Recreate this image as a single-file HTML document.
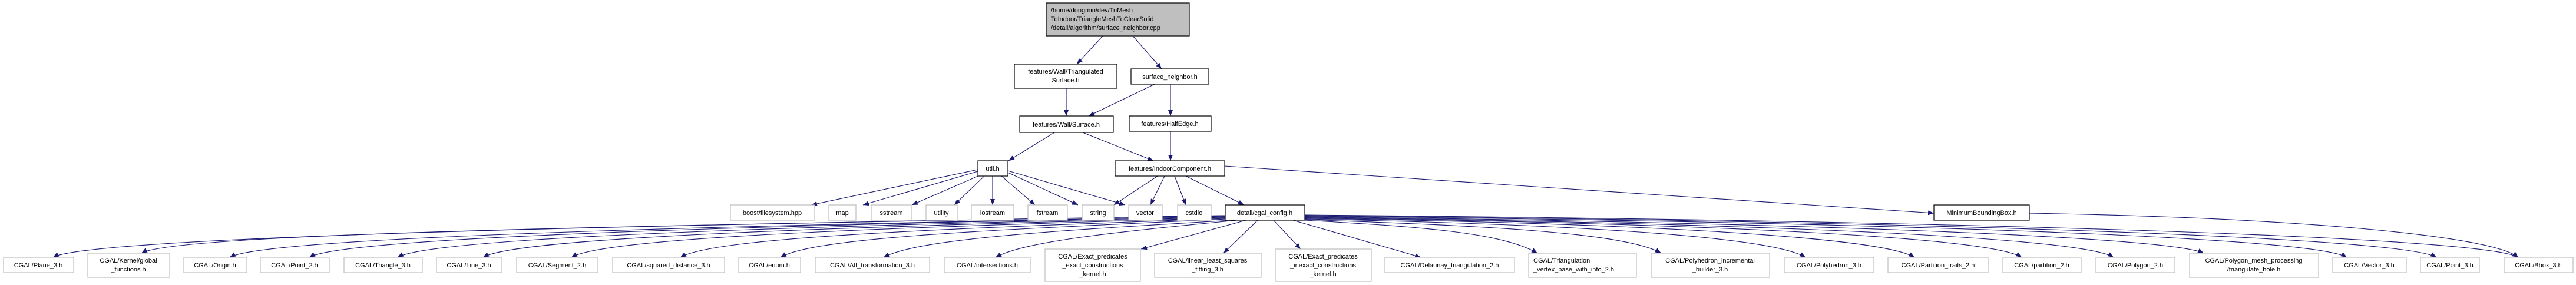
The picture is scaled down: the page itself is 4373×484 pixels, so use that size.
<!DOCTYPE html>
<html><head><meta charset="utf-8"><style>
html,body{margin:0;padding:0;background:#fff;}
svg{display:block}
text{font-family:"Liberation Sans",sans-serif;font-size:11px;fill:#000}
.e{fill:none;stroke:#191970;stroke-width:1.1}
.n{fill:#fff;stroke:#000;stroke-width:1.2}
.l{fill:#fff;stroke:#bfbfbf;stroke-width:1.2}
</style></head><body>
<svg width="4373" height="484" viewBox="0 0 4373 484" xmlns="http://www.w3.org/2000/svg">
<defs><marker id="a" markerUnits="userSpaceOnUse" markerWidth="10" markerHeight="8" refX="10" refY="4" orient="auto"><path d="M0,0 L10,4 L0,8 z" fill="#191970"/></marker></defs>
<g class="e" marker-end="url(#a)">
<path d="M1872,61 L1828,109"/>
<path d="M1923,61 L1972,117"/>
<path d="M1810,150 L1810,197"/>
<path d="M1960,143 L1848,197"/>
<path d="M1987,143 L1987,197"/>
<path d="M1790,225 L1712,273"/>
<path d="M1838,225 L1958,273"/>
<path d="M1987,223 L1987,273"/>
<path d="M1660,288 L1377,348"/>
<path d="M1660,291 L1465,348"/>
<path d="M1665,297 L1548,348"/>
<path d="M1671,299 L1620,348"/>
<path d="M1685,299 L1685,348"/>
<path d="M1700,299 L1757,348"/>
<path d="M1711,293 L1830,348"/>
<path d="M1711,290 L1910,348"/>
<path d="M1965,299 L1891,348"/>
<path d="M1977,299 L1953,348"/>
<path d="M1994,299 L2013,348"/>
<path d="M2013,299 L2112,348"/>
<path d="M2079,282 L3283,362"/>
<path d="M3445,362 C3900,370 4230,400 4275,437"/>
<path d="M2080,366 C1085,382 150,402 90,437"/>
<path d="M2080,366 C1160,382 300,395 240,430"/>
<path d="M2080,367 C1235,383 450,402 390,437"/>
<path d="M2080,367 C1302,383 585,402 525,437"/>
<path d="M2080,368 C1377,384 735,402 675,437"/>
<path d="M2080,369 C1450,385 880,402 820,437"/>
<path d="M2080,370 C1525,386 1030,402 970,437"/>
<path d="M2080,371 C1617,388 1215,402 1155,437"/>
<path d="M2082,372 C1702,390 1385,402 1325,437"/>
<path d="M2090,374 C1790,392 1560,405 1500,437"/>
<path d="M2100,374 C1885,395 1740,410 1690,437"/>
<path d="M2115,374 L1937,423"/>
<path d="M2135,374 L2077,430"/>
<path d="M2162,374 L2208,423"/>
<path d="M2195,374 L2412,437"/>
<path d="M2215,374 C2412,385 2550,395 2610,430"/>
<path d="M2215,373 C2517,383 2760,395 2820,430"/>
<path d="M2215,372 C2640,380 3005,400 3065,437"/>
<path d="M2215,371 C2732,378 3190,400 3250,437"/>
<path d="M2215,370 C2825,378 3375,400 3432,437"/>
<path d="M2215,369 C2902,378 3530,400 3588,437"/>
<path d="M2215,368 C2977,377 3680,400 3741,430"/>
<path d="M2215,367 C3100,376 3925,400 3984,437"/>
<path d="M2215,366 C3175,375 4075,400 4136,437"/>
<path d="M2215,365 C3245,374 4215,400 4275,437"/>
</g>
<!-- top nodes -->
<rect x="1776" y="5" width="243" height="56" fill="#bfbfbf" stroke="#000" stroke-width="1.2"/>
<text x="1784" y="21">/home/dongmin/dev/TriMesh</text>
<text x="1784" y="36">ToIndoor/TriangleMeshToClearSolid</text>
<text x="1784" y="51">/detail/algorithm/surface_neighbor.cpp</text>
<rect class="n" x="1722" y="109" width="174" height="41"/>
<text x="1809" y="125" text-anchor="middle">features/Wall/Triangulated</text>
<text x="1809" y="140" text-anchor="middle">Surface.h</text>
<rect class="n" x="1920" y="117" width="132" height="26"/>
<text x="1986" y="134" text-anchor="middle">surface_neighbor.h</text>
<rect class="n" x="1731" y="197" width="159" height="28"/>
<text x="1810" y="215" text-anchor="middle">features/Wall/Surface.h</text>
<rect class="n" x="1917" y="197" width="139" height="26"/>
<text x="1986" y="214" text-anchor="middle">features/HalfEdge.h</text>
<rect class="n" x="1660" y="273" width="51" height="26"/>
<text x="1685" y="290" text-anchor="middle">util.h</text>
<rect class="n" x="1893" y="273" width="186" height="26"/>
<text x="1986" y="290" text-anchor="middle">features/IndoorComponent.h</text>
<rect class="n" x="2080" y="348" width="135" height="26"/>
<text x="2147" y="365" text-anchor="middle">detail/cgal_config.h</text>
<rect class="n" x="3283" y="348" width="162" height="26"/>
<text x="3364" y="365" text-anchor="middle">MinimumBoundingBox.h</text>
<!-- std row -->
<g>
<rect class="l" x="1240" y="348" width="143" height="26"/><text x="1311" y="365" text-anchor="middle">boost/filesystem.hpp</text>
<rect class="l" x="1407" y="348" width="46" height="26"/><text x="1430" y="365" text-anchor="middle">map</text>
<rect class="l" x="1479" y="348" width="68" height="26"/><text x="1513" y="365" text-anchor="middle">sstream</text>
<rect class="l" x="1572" y="348" width="53" height="26"/><text x="1598" y="365" text-anchor="middle">utility</text>
<rect class="l" x="1649" y="348" width="72" height="26"/><text x="1685" y="365" text-anchor="middle">iostream</text>
<rect class="l" x="1745" y="348" width="67" height="26"/><text x="1778" y="365" text-anchor="middle">fstream</text>
<rect class="l" x="1837" y="348" width="54" height="26"/><text x="1864" y="365" text-anchor="middle">string</text>
<rect class="l" x="1916" y="348" width="57" height="26"/><text x="1944" y="365" text-anchor="middle">vector</text>
<rect class="l" x="1999" y="348" width="57" height="26"/><text x="2027" y="365" text-anchor="middle">cstdio</text>
</g>
<!-- bottom row -->
<g>
<rect class="l" x="6" y="437" width="119" height="26"/><text x="65" y="454" text-anchor="middle">CGAL/Plane_3.h</text>
<rect class="l" x="149" y="430" width="139" height="41"/><text x="218" y="446" text-anchor="middle">CGAL/Kernel/global</text><text x="218" y="461" text-anchor="middle">_functions.h</text>
<rect class="l" x="312" y="437" width="107" height="26"/><text x="365" y="454" text-anchor="middle">CGAL/Origin.h</text>
<rect class="l" x="442" y="437" width="117" height="26"/><text x="500" y="454" text-anchor="middle">CGAL/Point_2.h</text>
<rect class="l" x="584" y="437" width="133" height="26"/><text x="650" y="454" text-anchor="middle">CGAL/Triangle_3.h</text>
<rect class="l" x="741" y="437" width="111" height="26"/><text x="796" y="454" text-anchor="middle">CGAL/Line_3.h</text>
<rect class="l" x="877" y="437" width="138" height="26"/><text x="946" y="454" text-anchor="middle">CGAL/Segment_2.h</text>
<rect class="l" x="1040" y="437" width="190" height="26"/><text x="1135" y="454" text-anchor="middle">CGAL/squared_distance_3.h</text>
<rect class="l" x="1254" y="437" width="105" height="26"/><text x="1306" y="454" text-anchor="middle">CGAL/enum.h</text>
<rect class="l" x="1384" y="437" width="194" height="26"/><text x="1481" y="454" text-anchor="middle">CGAL/Aff_transformation_3.h</text>
<rect class="l" x="1603" y="437" width="146" height="26"/><text x="1676" y="454" text-anchor="middle">CGAL/intersections.h</text>
<rect class="l" x="1774" y="423" width="162" height="55"/><text x="1855" y="439" text-anchor="middle">CGAL/Exact_predicates</text><text x="1855" y="454" text-anchor="middle">_exact_constructions</text><text x="1855" y="469" text-anchor="middle">_kernel.h</text>
<rect class="l" x="1960" y="430" width="181" height="41"/><text x="2050" y="446" text-anchor="middle">CGAL/linear_least_squares</text><text x="2050" y="461" text-anchor="middle">_fitting_3.h</text>
<rect class="l" x="2165" y="423" width="163" height="55"/><text x="2246" y="439" text-anchor="middle">CGAL/Exact_predicates</text><text x="2246" y="454" text-anchor="middle">_inexact_constructions</text><text x="2246" y="469" text-anchor="middle">_kernel.h</text>
<rect class="l" x="2351" y="437" width="220" height="26"/><text x="2461" y="454" text-anchor="middle">CGAL/Delaunay_triangulation_2.h</text>
<rect class="l" x="2595" y="430" width="183" height="41"/><text x="2603" y="446">CGAL/Triangulation</text><text x="2603" y="461">_vertex_base_with_info_2.h</text>
<rect class="l" x="2803" y="430" width="201" height="41"/><text x="2903" y="446" text-anchor="middle">CGAL/Polyhedron_incremental</text><text x="2903" y="461" text-anchor="middle">_builder_3.h</text>
<rect class="l" x="3029" y="437" width="152" height="26"/><text x="3105" y="454" text-anchor="middle">CGAL/Polyhedron_3.h</text>
<rect class="l" x="3205" y="437" width="170" height="26"/><text x="3290" y="454" text-anchor="middle">CGAL/Partition_traits_2.h</text>
<rect class="l" x="3400" y="437" width="133" height="26"/><text x="3466" y="454" text-anchor="middle">CGAL/partition_2.h</text>
<rect class="l" x="3558" y="437" width="134" height="26"/><text x="3625" y="454" text-anchor="middle">CGAL/Polygon_2.h</text>
<rect class="l" x="3717" y="430" width="219" height="41"/><text x="3826" y="446" text-anchor="middle">CGAL/Polygon_mesh_processing</text><text x="3826" y="461" text-anchor="middle">/triangulate_hole.h</text>
<rect class="l" x="3960" y="437" width="125" height="26"/><text x="4022" y="454" text-anchor="middle">CGAL/Vector_3.h</text>
<rect class="l" x="4109" y="437" width="100" height="26"/><text x="4159" y="454" text-anchor="middle">CGAL/Point_3.h</text>
<rect class="l" x="4251" y="437" width="117" height="26"/><text x="4309" y="454" text-anchor="middle">CGAL/Bbox_3.h</text>
</g>
</svg>
</body></html>
